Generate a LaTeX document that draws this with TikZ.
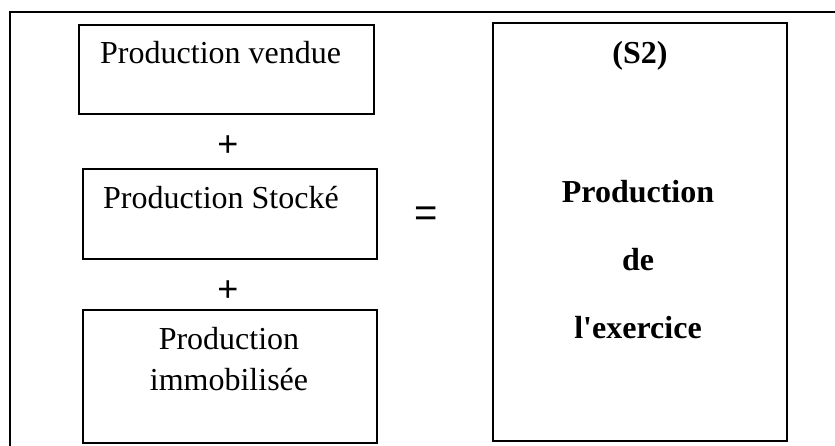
\documentclass[tikz,border=0pt]{standalone}
\usepackage{fontspec}
\setmainfont{Liberation Serif}
\newfontfamily\signfont{Liberation Sans}
\begin{document}
\begin{tikzpicture}[x=1pt,y=-1pt,
  frame/.style={line width=1.6pt},
  boxnode/.style={draw,line width=1.6pt,inner sep=0pt,anchor=north west},
  txt/.style={inner sep=0pt,font=\fontsize{32}{38}\selectfont},
  btxt/.style={inner sep=0pt,anchor=base,font=\fontsize{32}{38}\selectfont\bfseries},
  sign/.style={inner sep=0pt,font=\signfont\fontsize{36}{40}\selectfont}]
  \useasboundingbox (0,0) rectangle (835,445);
  % outer frame (only top and left edges fall inside the page)
  \draw[frame] (840,12) -- (10,12) -- (10,450);
  % left column boxes
  \node[boxnode,minimum width=295pt,minimum height=89pt] (vendue) at (78,24) {};
  \node[boxnode,minimum width=294pt,minimum height=90pt] (stocke) at (82,168) {};
  \node[boxnode,minimum width=294pt,minimum height=133pt] (immo) at (82,309) {};
  % result box
  \node[boxnode,minimum width=294pt,minimum height=418pt] (result) at (492,22) {};
  % texts of the left column
  \node[txt,anchor=base west] (t1) at (100,63) {Production vendue};
  \node[txt,anchor=base west] (t2) at (103,208) {Production Stocké};
  \node[txt,anchor=base] (t3a) at (229,349) {Production};
  \node[txt,anchor=base] (t3b) at (229,390) {immobilisée};
  % operators
  \node[sign] (plus1) at (228,146) {+};
  \node[sign] (plus2) at (228,291) {+};
  \node[sign,font=\signfont\fontsize{40}{44}\selectfont] (equal) at (426,217) {=};
  % texts of the result box
  \node[btxt] (s2) at (640,63) {(S2)};
  \node[btxt] (r1) at (638,202) {Production};
  \node[btxt] (r2) at (638,270) {de};
  \node[btxt] (r3) at (638,338) {l\textquotesingle exercice};
\end{tikzpicture}
\end{document}
